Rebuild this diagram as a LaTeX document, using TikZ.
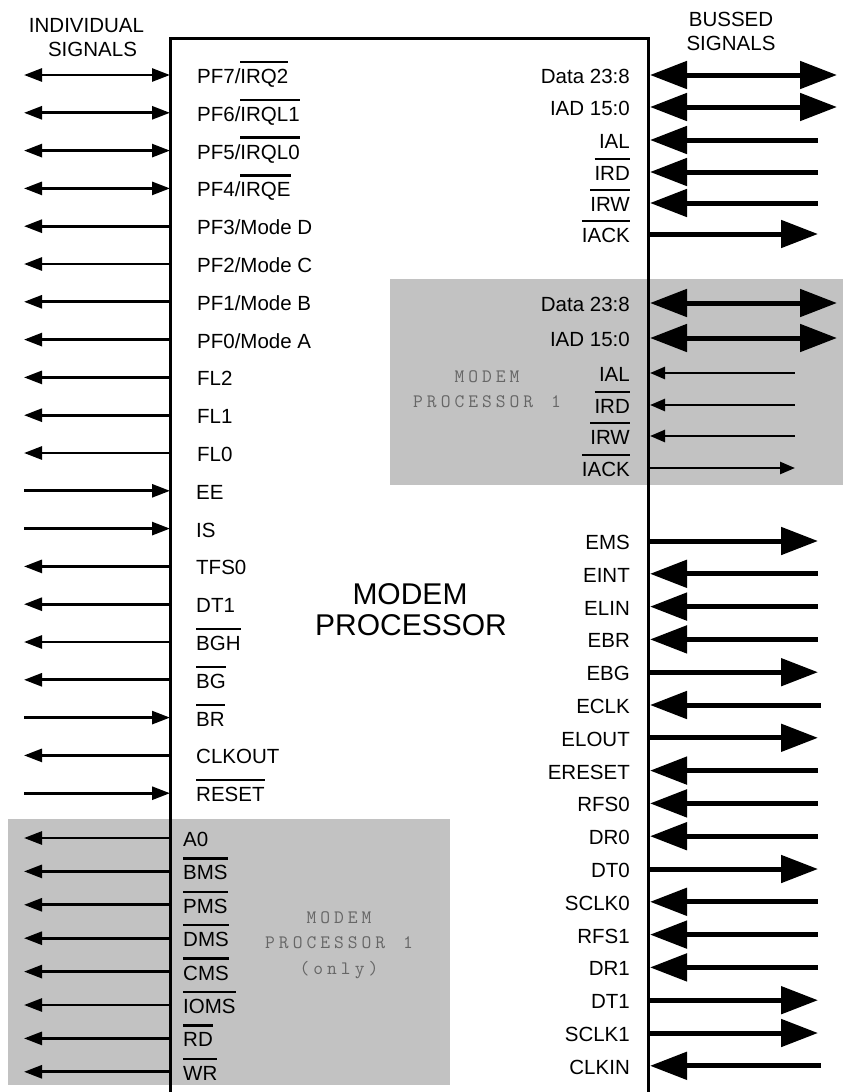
\documentclass[tikz,border=0pt]{standalone}
\usepackage{fontspec}
\setmainfont{Liberation Sans}
\usetikzlibrary{arrows.meta}
\newcommand\ob[1]{\leavevmode\setbox0\hbox{#1}\rlap{\rule[\dimexpr\ht0+6pt\relax]{\wd0}{2.4pt}}\box0}
% letter-spaced text (use ~ for a space)
\def\lsp#1{\lspA#1\relax}
\def\lspA#1{\ifx#1\relax\else#1\kern4pt\expandafter\lspA\fi}
\tikzset{
  smallA/.tip={Triangle[length=18pt,width=13pt]},
  midA/.tip={Triangle[length=15pt,width=12pt]},
  bigA/.tip={Triangle[length=37pt,width=27pt]},
  lab/.style={inner sep=0pt, font=\fontsize{20.5}{23}\selectfont},
  toplab/.style={inner sep=0pt, font=\fontsize{20.5}{23}\selectfont, anchor=base},
  ttl/.style={inner sep=0pt, font=\fontsize{30}{34}\selectfont, anchor=base},
  gtxt/.style={inner sep=0pt, align=center, text=black!60, font=\ttfamily\fontsize{19}{25.5}\selectfont},
  stip/.style={fill=black!24},
  frame/.style={line width=3pt},
  sOut/.style={line width=2.7pt, smallA-},
  sIn/.style={line width=2.7pt, -smallA},
  sBoth/.style={line width=2.7pt, smallA-smallA},
  bOut/.style={line width=5pt, -bigA},
  bIn/.style={line width=5pt, bigA-},
  bBoth/.style={line width=5pt, bigA-bigA},
  mOut/.style={line width=2.5pt, -midA},
  mIn/.style={line width=2.5pt, midA-},
}
% left row: name, y, label, style, label x
\newcommand\Lrow[5]{%
  \coordinate (#1e) at (170,#2);
  \coordinate (#1o) at (24,#2);
  \node[lab,anchor=base west] (#1) at (#5,#2+8.5) {#3};
  \draw[#4] (#1o) -- (#1e);}
% right row: name, y, label, style, outer x
\newcommand\Rrow[5]{%
  \coordinate (#1e) at (650,#2);
  \coordinate (#1o) at (#5,#2);
  \node[lab,anchor=base east] (#1) at (630,#2+8.5) {#3};
  \draw[#4] (#1e) -- (#1o);}
\begin{document}
\begin{tikzpicture}[x=1pt,y=-1pt]
\useasboundingbox (0,0) rectangle (843,1092);
% shaded areas
\fill[stip] (390,279) rectangle (843,485);
\fill[stip] (8,819) rectangle (450,1085);
% processor outline
\draw[frame] (170,1092) -- (170,38) -- (648,38) -- (648,1092);
% headings
\node[toplab] (hind1) at (86.5,32) {INDIVIDUAL};
\node[toplab] (hind2) at (92.5,56) {SIGNALS};
\node[toplab] (hbus1) at (731,26) {BUSSED};
\node[toplab] (hbus2) at (731,50) {SIGNALS};
\node[ttl] (title1) at (410,604) {MODEM};
\node[ttl] (title2) at (411,635.5) {PROCESSOR};
\node[gtxt] (gray2) at (489,389) {\lsp{MODEM}\\\lsp{PROCESSOR~1}};
\node[gtxt] (gray1) at (341,945) {\lsp{MODEM}\\\lsp{PROCESSOR~1}\\\lsp{(only)}};
% left individual signals
\Lrow{la}{75}{PF7/\ob{IRQ2}}{sBoth}{197}
\Lrow{lb}{112.8}{PF6/\ob{IRQL1}}{sBoth}{197}
\Lrow{lc}{150.6}{PF5/\ob{IRQL0}}{sBoth}{197}
\Lrow{ld}{188.4}{PF4/\ob{IRQE}}{sBoth}{197}
\Lrow{le}{226.2}{PF3/Mode D}{sOut}{197}
\Lrow{lf}{264}{PF2/Mode C}{sOut}{197}
\Lrow{lg}{301.8}{PF1/Mode B}{sOut}{197}
\Lrow{lh}{339.6}{PF0/Mode A}{sOut}{197}
\Lrow{li}{377.4}{FL2}{sOut}{197}
\Lrow{lj}{415.2}{FL1}{sOut}{197}
\Lrow{lk}{453}{FL0}{sOut}{197}
\Lrow{ll}{490.8}{EE}{sIn}{196}
\Lrow{lm}{528.6}{IS}{sIn}{196}
\Lrow{ln}{566.4}{TFS0}{sOut}{196}
\Lrow{lo}{604.2}{DT1}{sOut}{196}
\Lrow{lp}{642}{\ob{BGH}}{sOut}{196}
\Lrow{lq}{679.8}{\ob{BG}}{sOut}{196}
\Lrow{lr}{717.6}{\ob{BR}}{sIn}{196}
\Lrow{ls}{755.4}{CLKOUT}{sOut}{196}
\Lrow{lt}{793.2}{\ob{RESET}}{sIn}{196}
% left bottom (modem processor 1 only)
\Lrow{ma}{838}{A0}{sOut}{183}
\Lrow{mb}{871.4}{\ob{BMS}}{sOut}{183}
\Lrow{mc}{904.8}{\ob{PMS}}{sOut}{183}
\Lrow{md}{938.2}{\ob{DMS}}{sOut}{183}
\Lrow{me}{971.6}{\ob{CMS}}{sOut}{183}
\Lrow{mf}{1005}{\ob{IOMS}}{sOut}{183}
\Lrow{mg}{1038.4}{\ob{RD}}{sOut}{183}
\Lrow{mh}{1071.8}{\ob{WR}}{sOut}{183}
% right bussed signals
\Rrow{ra}{75}{Data 23:8}{bBoth}{837}
\Rrow{rb}{107}{IAD 15:0}{bBoth}{837}
\Rrow{rc}{140}{IAL}{bIn}{818}
\Rrow{rd}{172}{\ob{IRD}}{bIn}{818}
\Rrow{re}{203}{\ob{IRW}}{bIn}{818}
\Rrow{rf}{234}{\ob{IACK}}{bOut}{818}
% right, modem processor 1
\Rrow{sa}{303}{Data 23:8}{bBoth}{837}
\Rrow{sb}{338}{IAD 15:0}{bBoth}{837}
\Rrow{sc}{373}{IAL}{mIn}{795}
\Rrow{sd}{405}{\ob{IRD}}{mIn}{795}
\Rrow{se}{436}{\ob{IRW}}{mIn}{795}
\Rrow{sf}{468}{\ob{IACK}}{mOut}{795}
% right, lower
\Rrow{ta}{541}{EMS}{bOut}{818}
\Rrow{tb}{573.8}{EINT}{bIn}{818}
\Rrow{tc}{606.6}{ELIN}{bIn}{818}
\Rrow{td}{639.4}{EBR}{bIn}{818}
\Rrow{te}{672.2}{EBG}{bOut}{818}
\Rrow{tf}{705}{ECLK}{bIn}{821}
\Rrow{tg}{737.8}{ELOUT}{bOut}{818}
\Rrow{th}{770.6}{ERESET}{bIn}{818}
\Rrow{ti}{803.4}{RFS0}{bIn}{818}
\Rrow{tj}{836.2}{DR0}{bIn}{818}
\Rrow{tk}{869}{DT0}{bOut}{818}
\Rrow{tl}{901.8}{SCLK0}{bIn}{818}
\Rrow{tm}{934.6}{RFS1}{bIn}{818}
\Rrow{tn}{967.4}{DR1}{bIn}{818}
\Rrow{to}{1000.2}{DT1}{bOut}{818}
\Rrow{tp}{1033}{SCLK1}{bOut}{818}
\Rrow{tq}{1065.8}{CLKIN}{bIn}{821}
\end{tikzpicture}
\end{document}
